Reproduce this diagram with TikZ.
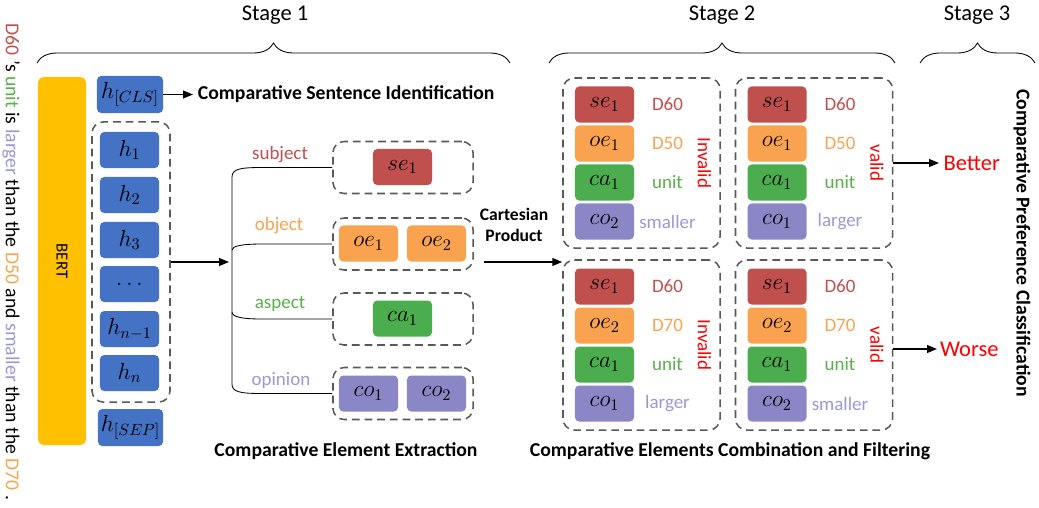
\RequirePackage{fix-cm}
\documentclass[tikz,border=0pt]{standalone}
\usepackage{fontspec}
\setmainfont{Carlito}
\usetikzlibrary{positioning,arrows.meta,decorations.pathreplacing}
\definecolor{hblue}{HTML}{4472C4}
\definecolor{bertyellow}{HTML}{FFC000}
\definecolor{sered}{HTML}{C0504D}
\definecolor{oeorange}{HTML}{F9A24F}
\definecolor{cagreen}{HTML}{4CAD4F}
\definecolor{copurple}{HTML}{8B86C5}
\definecolor{optext}{HTML}{9D97D6}
\definecolor{unittext}{HTML}{58B04A}
\definecolor{dashgray}{HTML}{595959}
\newcommand{\setfs}[1]{\fontsize{#1}{#1}\selectfont}
\tikzset{>={Triangle[length=7pt,width=5.5pt]}}

\begin{document}
\begin{tikzpicture}[x=0.025cm,y=-0.025cm,
  tok/.style={rounded corners=3pt,minimum width=1.475cm,minimum height=0.9cm,inner sep=0pt,font=\setfs{16.5}},
  grp/.style={draw=dashgray,line width=1.1pt,dash pattern=on 5.5pt off 3.5pt,rounded corners=8pt,inner sep=0pt},
  lab/.style={font=\setfs{13.5},inner sep=1pt},
  bold/.style={font=\bfseries\setfs{14}},
  conn/.style={line width=1.1pt,->},
  stg/.style={decorate,decoration={brace,amplitude=0.5cm},line width=0.6pt}]
\useasboundingbox (0,0) rectangle (1039,507);

% input sentence and encoder
\node[rotate=-90,font=\setfs{14}] (sent) at (11,262) {\textcolor{sered}{D60} ’s \textcolor{unittext}{unit} is \textcolor{optext}{larger} than the \textcolor{oeorange}{D50} and \textcolor{optext}{smaller} than the \textcolor{oeorange}{D70} .};
\node[rotate=-90,fill=bertyellow,rounded corners=4pt,minimum width=9.2cm,minimum height=1.2cm,font=\setfs{12}] (bert) at (62,261) {BERT};
\node[tok,fill=hblue,minimum width=1.65cm,minimum height=0.925cm] (hcls) at (130,94.5) {$h_{[CLS]}$};
\node[tok,fill=hblue,minimum width=1.625cm,minimum height=0.925cm] (hsep) at (130.5,427.5) {$h_{[SEP]}$};
\node[grp,minimum width=1.95cm,minimum height=7cm] (hgrp) at (131,262) {};
\foreach \n/\y/\t in {1/150/h_1,2/195/h_2,3/240/h_3,4/284/\ldots,5/329/h_{n-1},6/373/h_n}
  \node[tok,fill=hblue] (h\n) at (129.5,\y) {$\t$};

% stage 1
\node[bold,anchor=west] (csi) at (193,94.5) {Comparative Sentence Identification};
\draw[conn] (hcls.east) -- (csi.west);
\coordinate (fork) at (229,262);
\draw[conn] (hgrp.east) -- (fork);

\node[grp,minimum width=3.5cm,minimum height=1.3cm] (seg) at (403,167.5) {};
\node[grp,minimum width=3.5cm,minimum height=1.3cm] (oeg) at (403,244) {};
\node[grp,minimum width=3.5cm,minimum height=1.3cm] (cag) at (403,319) {};
\node[grp,minimum width=3.5cm,minimum height=1.3cm] (cog) at (403,393.5) {};
\node[tok,fill=sered] (se1) at (402.5,167) {$se_1$};
\node[tok,fill=oeorange] (oe1) at (368.5,243.5) {$oe_1$};
\node[tok,fill=oeorange] (oe2) at (436.5,243.5) {$oe_2$};
\node[tok,fill=cagreen] (ca1) at (402.5,318.5) {$ca_1$};
\node[tok,fill=copurple] (co1) at (368.5,393.5) {$co_1$};
\node[tok,fill=copurple] (co2) at (436.5,393.5) {$co_2$};

\draw[line width=0.6pt] (seg.west) -- (262,167.5) .. controls (240,167.5) and (232,169) .. (232,177)
  -- (232,384) .. controls (232,392) and (240,393.5) .. (262,393.5) -- (cog.west);
\draw[line width=0.6pt] (oeg.west) -- (262,244) .. controls (242,244) and (232,246) .. (232,250);
\draw[line width=0.6pt] (cag.west) -- (262,319) .. controls (242,319) and (232,317) .. (232,312);
\node[lab,text=sered] (lsubj) at (280,155) {subject};
\node[lab,text=oeorange] (lobj) at (279,226) {object};
\node[lab,text=unittext] (lasp) at (280,304) {aspect};
\node[lab,text=optext] (lopn) at (281,380) {opinion};
\node[bold] (cee) at (346,451) {Comparative Element Extraction};

% cartesian product
\node[font=\bfseries\setfs{12.5},align=center,inner sep=0pt] (cart) at (514,225) {Cartesian\\[2pt]Product};
\coordinate (cpstart) at (484,262);

% stage 2
\foreach \bx/\cx/\cy/\oe/\co/\dd/\op/\vl in {A/641.5/163/1/2/D50/smaller/Invalid,
    B/814/163/1/1/D50/larger/valid,C/641.5/345/2/1/D70/larger/Invalid,D/814/345/2/2/D70/smaller/valid}{
  \node[grp,minimum width=3.925cm,minimum height=4.25cm] (cmb\bx) at (\cx,\cy) {};
  \node[tok,fill=sered] (se\bx) at (\cx-37,\cy-58.5) {$se_1$};
  \node[tok,fill=oeorange] (oe\bx) at (\cx-37,\cy-19.5) {$oe_\oe$};
  \node[tok,fill=cagreen] (ca\bx) at (\cx-37,\cy+19.5) {$ca_1$};
  \node[tok,fill=copurple] (co\bx) at (\cx-37,\cy+58.5) {$co_\co$};
  \node[lab,text=sered] (tse\bx) at (\cx+26,\cy-58.5) {D60};
  \node[lab,text=oeorange] (toe\bx) at (\cx+26,\cy-19.5) {\dd};
  \node[lab,text=unittext] (tca\bx) at (\cx+26,\cy+19.5) {unit};
  \node[lab,text=optext] (tco\bx) at (\cx+26,\cy+58.5) {\op};
  \node[lab,text=red,rotate=-90] (v\bx) at (\cx+63,\cy) {\vl};
}
\draw[conn] (cpstart) -- (cpstart -| cmbC.west);
\node[bold] (cecf) at (730,451) {Comparative Elements Combination and Filtering};

% stage 3
\node[font=\setfs{16},text=red,anchor=west,inner sep=3pt] (better) at (939,163) {Better};
\node[font=\setfs{16},text=red,anchor=west,inner sep=2pt] (worse) at (937,349) {Worse};
\draw[conn] (cmbB.east) -- (better.west);
\draw[conn] (cmbD.east |- worse.west) -- (worse.west);
\node[bold,rotate=-90] (cpc) at (1022,243) {Comparative Preference Classification};

% stages
\draw[stg] (37,63) -- (510,63);
\draw[stg] (549,63) -- (895,63);
\draw[stg] (920,63) -- (1035,63);
\node[font=\setfs{16}] (s1) at (275,15) {Stage 1};
\node[font=\setfs{16}] (s2) at (722,15) {Stage 2};
\node[font=\setfs{16}] (s3) at (977,15) {Stage 3};
\end{tikzpicture}
\end{document}
